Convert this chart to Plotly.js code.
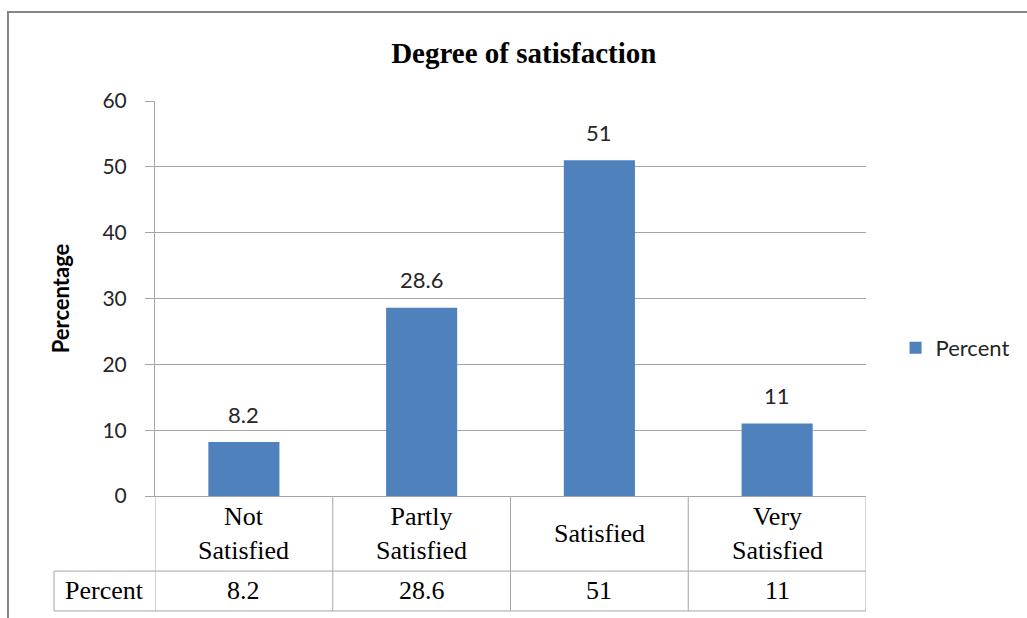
<!DOCTYPE html>
<html>
<head>
<meta charset="utf-8">
<script src="https://cdn.plot.ly/plotly-3.0.1.min.js"></script>
<style>html,body{margin:0;padding:0;background:#fff;}#chart{width:1027px;height:618px;}</style>
</head>
<body>
<div id="chart"></div>
<script>
const categories = ['Not Satisfied', 'Partly Satisfied', 'Satisfied', 'Very Satisfied'];
const tableLabels = ['Not<br>Satisfied', 'Partly<br>Satisfied', 'Satisfied', 'Very<br>Satisfied'];
const percent = [8.2, 28.6, 51, 11];
const seriesName = 'Percent';
const yTicks = [0, 10, 20, 30, 40, 50, 60];

const barColor = '#4F81BD';
const gridColor = '#a6a6a6';
const tableColor = '#a6a6a6';
const sans = 'Lato, "Liberation Sans", sans-serif';
const serif = '"Liberation Serif", "Times New Roman", serif';

// table geometry in paper units
const rowSplit = -0.19;
const tableBottom = -0.291;
const labelLeft = -0.142;

const shapes = [];
for (let i = 0; i <= categories.length; i++) {
  shapes.push({type: 'line', xref: 'x', yref: 'paper', x0: i - 0.5, x1: i - 0.5, y0: 0, y1: tableBottom,
    line: {color: tableColor, width: 1}});
}
shapes.push({type: 'line', xref: 'paper', yref: 'paper', x0: labelLeft, x1: 1, y0: rowSplit, y1: rowSplit, line: {color: tableColor, width: 1}});
shapes.push({type: 'line', xref: 'paper', yref: 'paper', x0: labelLeft, x1: 1, y0: tableBottom, y1: tableBottom, line: {color: tableColor, width: 1}});
shapes.push({type: 'line', xref: 'paper', yref: 'paper', x0: labelLeft, x1: labelLeft, y0: rowSplit, y1: tableBottom, line: {color: tableColor, width: 1}});
shapes.push({type: 'rect', xref: 'paper', yref: 'paper', x0: -0.2068, x1: 1.4, y0: -0.5, y1: 1.2253,
  line: {color: '#868686', width: 2}, layer: 'below'});

const annotations = [];
categories.forEach((c, i) => {
  annotations.push({x: c, y: percent[i], xref: 'x', yref: 'y', text: String(percent[i]), showarrow: false,
    yanchor: 'middle', yshift: 28, font: {family: sans, size: 22, color: '#262626'}});
  annotations.push({x: c, y: -0.095, xref: 'x', yref: 'paper', text: tableLabels[i], showarrow: false,
    yanchor: 'middle', font: {family: serif, size: 26, color: '#000'}});
  annotations.push({x: c, y: (rowSplit + tableBottom) / 2, xref: 'x', yref: 'paper', text: String(percent[i]), showarrow: false,
    yanchor: 'middle', font: {family: serif, size: 26, color: '#000'}});
});
annotations.push({x: labelLeft / 2, y: (rowSplit + tableBottom) / 2, xref: 'paper', yref: 'paper', text: seriesName, showarrow: false,
  xanchor: 'center', yanchor: 'middle', font: {family: serif, size: 26, color: '#000'}});

const data = [{
  type: 'bar', x: categories, y: percent, name: seriesName,
  marker: {color: barColor}, showlegend: true, hoverinfo: 'none'
}];

const layout = {
  width: 1027, height: 618,
  margin: {l: 155, r: 161, t: 101, b: 122, pad: 0},
  paper_bgcolor: '#fff', plot_bgcolor: '#fff',
  bargap: 0.6,
  title: {text: '<b>Degree of satisfaction</b>', x: 0.51, xref: 'container', xanchor: 'center',
    y: 0.915, yref: 'container', yanchor: 'middle', font: {family: serif, size: 29, color: '#000'}},
  xaxis: {type: 'category', range: [-0.5, categories.length - 0.5], showticklabels: false, ticks: '',
    showgrid: false, showline: true, linecolor: gridColor, linewidth: 1, zeroline: false, fixedrange: true},
  yaxis: {range: [0, 60], tickvals: yTicks, showgrid: true, gridcolor: gridColor, gridwidth: 1,
    showline: true, linecolor: gridColor, linewidth: 1, zeroline: false,
    ticks: 'outside', ticklen: 9, tickcolor: gridColor, ticklabelstandoff: 14,
    tickfont: {family: sans, size: 21, color: '#262626'},
    title: {text: '<b>Percentage</b>', standoff: 26, font: {family: sans, size: 22, color: '#000'}},
    fixedrange: true},
  legend: {x: 0.872, xref: 'container', xanchor: 'left', y: 0.437, yref: 'container', yanchor: 'middle',
    font: {family: sans, size: 22, color: '#262626'}, bgcolor: 'rgba(0,0,0,0)', itemwidth: 30},
  shapes: shapes,
  annotations: annotations
};

Plotly.newPlot('chart', data, layout, {displayModeBar: false, staticPlot: true});
</script>
</body>
</html>
